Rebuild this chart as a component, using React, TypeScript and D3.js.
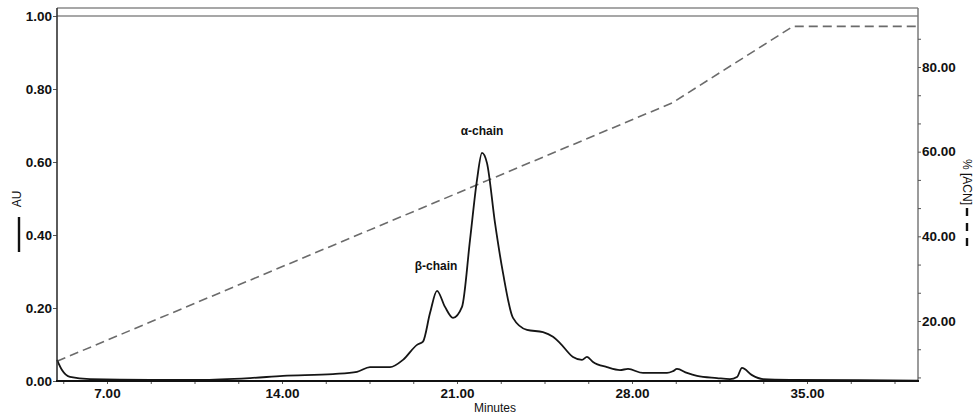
import { useEffect, useRef } from "react";
import * as d3 from "d3";

// UV trace (AU), by retention time in minutes
const minutes = [
  5.0, 5.2, 5.52, 6.32, 8.72, 10.72, 12.72, 14.04, 16.04, 17.0, 17.52, 18.32,
  18.84, 19.4, 19.64, 19.92, 20.2, 20.52, 20.84, 21.2, 21.52, 21.8, 22.0, 22.2,
  22.52, 22.84, 23.24, 23.8, 24.44, 24.84, 25.12, 25.64, 26.0, 26.2, 26.44,
  27.0, 27.52, 27.84, 28.44, 29.4, 29.64, 29.8, 30.2, 30.6, 31.4, 31.92, 32.2,
  32.4, 32.8, 33.24, 34.32, 37.12, 39.44,
];
const absorbance = [
  0.058, 0.03, 0.011, 0.005, 0.003, 0.003, 0.008, 0.014, 0.019, 0.025, 0.038,
  0.038, 0.058, 0.099, 0.108, 0.186, 0.247, 0.203, 0.173, 0.203, 0.386, 0.551,
  0.625, 0.597, 0.433, 0.296, 0.173, 0.14, 0.134, 0.121, 0.104, 0.066, 0.058,
  0.066, 0.052, 0.038, 0.03, 0.033, 0.022, 0.022, 0.027, 0.033, 0.022, 0.014,
  0.008, 0.005, 0.011, 0.036, 0.016, 0.005, 0.003, 0.002, 0.001,
];

// acetonitrile gradient
const gradientMinutes = [5.0, 29.6, 34.44, 39.44];
const gradientAcn = [10.5, 71.5, 89.6, 89.6];

const xTicks = [7, 14, 21, 28, 35];
const auTicks = [0, 0.2, 0.4, 0.6, 0.8, 1.0];
const acnTicks = [20, 40, 60, 80];
const acnMinorTicks = [6.67, 13.33, 26.67, 33.33, 46.67, 53.33, 66.67, 73.33, 86.67];

const peakLabels = ["β-chain", "α-chain"];
const peakMinutes = [20.2, 22.0];
const peakAu = [0.247, 0.625];

const W = 976;
const H = 418;
const FONT = "'Liberation Sans', Arial, sans-serif";

function renderChart(element: SVGSVGElement) {
  const svg = d3.select(element);
  svg.selectAll("*").remove();

  const left = 57,
    right = 918,
    top = 8,
    bottom = 381;

  const x = d3.scaleLinear().domain([5, 39.44]).range([left, right]);
  const yAu = d3.scaleLinear().domain([0, 1]).range([bottom, 16]);
  const yAcn = d3.scaleLinear().domain([20, 80]).range([321, 67]);

  // frame
  svg.append("line").attr("x1", left).attr("x2", right).attr("y1", top).attr("y2", top)
    .attr("stroke", "#8a8a8a").attr("stroke-width", 1.5);
  svg.append("line").attr("x1", left).attr("x2", right).attr("y1", yAu(1)).attr("y2", yAu(1))
    .attr("stroke", "#8a8a8a").attr("stroke-width", 1.5);
  svg.append("line").attr("x1", right).attr("x2", right).attr("y1", top).attr("y2", bottom)
    .attr("stroke", "#7a7a7a").attr("stroke-width", 1.5);

  // gradient (dashed)
  const gradLine = d3
    .line<number>()
    .x((d, i) => x(gradientMinutes[i]))
    .y((d) => yAcn(d));
  svg.append("path")
    .attr("d", gradLine(gradientAcn))
    .attr("fill", "none")
    .attr("stroke", "#6b6b6b")
    .attr("stroke-width", 1.6)
    .attr("stroke-dasharray", "9,5");

  // absorbance trace
  const auLine = d3
    .line<number>()
    .x((d, i) => x(minutes[i]))
    .y((d) => yAu(d))
    .curve(d3.curveMonotoneX);
  svg.append("path")
    .attr("d", auLine(absorbance))
    .attr("fill", "none")
    .attr("stroke", "#151515")
    .attr("stroke-width", 1.8)
    .attr("stroke-linejoin", "round");

  // axes
  const styleAxis = (g: d3.Selection<SVGGElement, unknown, null, undefined>) => {
    g.select(".domain").remove();
    g.selectAll(".tick line").attr("stroke", "#555").attr("stroke-width", 1);
    g.selectAll(".tick text")
      .attr("fill", "#111")
      .style("font-family", FONT)
      .style("font-size", "13.5px")
      .style("font-weight", "bold");
  };

  svg.append("g")
    .attr("transform", `translate(0,${bottom})`)
    .call(
      d3.axisBottom(x)
        .tickValues(d3.range(5.25, 39.44, 1.75))
        .tickSize(3)
        .tickFormat(() => "")
    )
    .call(styleAxis);
  svg.append("g")
    .attr("transform", `translate(0,${bottom})`)
    .call(
      d3.axisBottom(x).tickValues(xTicks).tickSize(3).tickPadding(4)
        .tickFormat((d) => d3.format(".2f")(d as number))
    )
    .call(styleAxis);

  svg.append("g")
    .attr("transform", `translate(${left},0)`)
    .call(
      d3.axisLeft(yAu).tickValues(auTicks).tickSize(4).tickPadding(1)
        .tickFormat((d) => d3.format(".2f")(d as number))
    )
    .call(styleAxis);

  svg.append("g")
    .attr("transform", `translate(${right},0)`)
    .call(d3.axisRight(yAcn).tickValues(acnMinorTicks).tickSize(3).tickFormat(() => ""))
    .call(styleAxis);
  svg.append("g")
    .attr("transform", `translate(${right},0)`)
    .call(
      d3.axisRight(yAcn).tickValues(acnTicks).tickSize(3).tickPadding(1)
        .tickFormat((d) => d3.format(".2f")(d as number))
    )
    .call(styleAxis);

  // axis lines
  svg.append("line").attr("x1", left).attr("x2", left).attr("y1", top).attr("y2", bottom)
    .attr("stroke", "#333").attr("stroke-width", 1.6);
  svg.append("line").attr("x1", left - 1).attr("x2", right + 1).attr("y1", bottom).attr("y2", bottom)
    .attr("stroke", "#111").attr("stroke-width", 2.2);

  // axis titles
  svg.append("text")
    .attr("x", 495).attr("y", 412)
    .attr("text-anchor", "middle")
    .style("font-family", FONT).style("font-size", "12px")
    .attr("fill", "#111")
    .text("Minutes");

  svg.append("text")
    .attr("transform", "translate(21,199) rotate(-90)")
    .attr("text-anchor", "middle")
    .style("font-family", FONT).style("font-size", "12px")
    .attr("fill", "#111")
    .text("AU");
  svg.append("line").attr("x1", 19).attr("x2", 19).attr("y1", 217).attr("y2", 252)
    .attr("stroke", "#111").attr("stroke-width", 2.4);

  svg.append("text")
    .attr("transform", "translate(963,182) rotate(90)")
    .attr("text-anchor", "middle")
    .style("font-family", FONT).style("font-size", "12px")
    .attr("fill", "#111")
    .text("% [ACN]");
  svg.append("line").attr("x1", 967).attr("x2", 967).attr("y1", 208).attr("y2", 253)
    .attr("stroke", "#111").attr("stroke-width", 2.4).attr("stroke-dasharray", "8,7");

  // peak annotations
  svg.selectAll("text.peak")
    .data(peakLabels)
    .join("text")
    .attr("class", "peak")
    .attr("x", (d, i) => x(peakMinutes[i]) - (i === 0 ? 1 : 0))
    .attr("y", (d, i) => yAu(peakAu[i]) - (i === 0 ? 21 : 18))
    .attr("text-anchor", "middle")
    .style("font-family", FONT).style("font-size", "12px").style("font-weight", "bold")
    .attr("fill", "#111")
    .text((d) => d);
}

export default function App() {
  const ref = useRef<SVGSVGElement>(null);
  useEffect(() => {
    if (ref.current) renderChart(ref.current);
  }, []);
  return (
    <div style={{ position: "absolute", left: 0, top: 0, background: "#fff" }}>
      <svg ref={ref} width={W} height={H} style={{ display: "block" }} />
    </div>
  );
}
